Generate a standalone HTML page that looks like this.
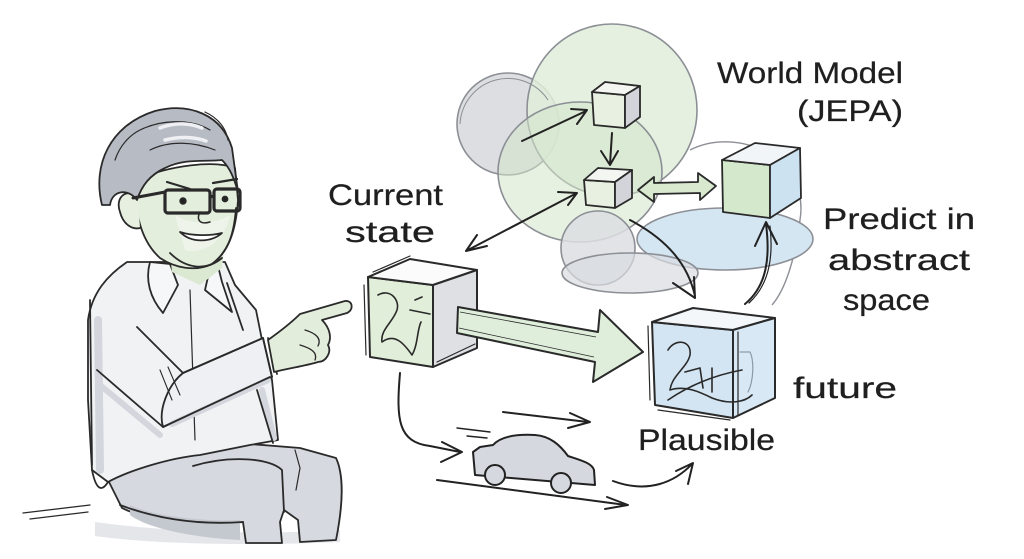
<!DOCTYPE html>
<html><head><meta charset="utf-8"><style>
html,body{margin:0;padding:0;background:#fff;width:1024px;height:559px;overflow:hidden}
svg{display:block}
text{font-family:"Liberation Sans","DejaVu Sans",sans-serif;fill:#1f1f1f;font-size:30px;stroke:#1f1f1f;stroke-width:0.25}
</style></head><body>
<svg width="1024" height="559" viewBox="0 0 1024 559" xmlns="http://www.w3.org/2000/svg">
<rect width="1024" height="559" fill="#fff"/>

<!-- ============ PERSON ============ -->
<g stroke="#2a2a2a" stroke-width="1.8" fill="none" stroke-linecap="round" stroke-linejoin="round">
  <path d="M95,522 C150,530 250,536 340,530 L340,542 C250,546 150,544 95,536 Z" fill="#e4e6ea" stroke="none"/>
  <path d="M23,513 L90,505 M30,519 L88,512" stroke-width="1.3"/>
  <path d="M108,480 C125,460 170,450 250,444 L300,448 L336,458 C344,475 343,505 336,540 L300,542 L298,520 L284,510 L280,522 L282,543 L246,543 L243,522 C200,528 150,522 122,508 Z" fill="#d6d9df"/>
  <path d="M130,505 C150,515 200,522 240,520 L240,540 C200,538 150,530 130,515 Z" fill="#c4c8cf" stroke="none"/>
  <path d="M120,505 C160,520 200,525 243,522" />
  <path d="M193,466 C230,455 270,458 282,470 L284,512" />
  <path d="M295,450 L300,468 L296,490" stroke-width="1.2"/>
  <path d="M127,262 C108,275 92,292 88,320 L88,400 L92,470 L108,482 C130,470 170,458 200,455 L250,445 L278,440 L272,380 L262,340 L256,310 L235,285 L225,262 Z" fill="#f0f2f4"/>
  <path d="M98,320 L100,470" stroke="#d3d6dc" stroke-width="8"/>
  <path d="M262,390 L274,438" stroke="#d3d6dc" stroke-width="6"/>
  <path d="M90,300 L92,465 M227,283 L243,330 M257,390 L273,443" />
  <path d="M92,470 C95,485 100,495 108,482" />
  <path d="M97,370 L163,427 M137,327 L183,373" />
  <path d="M100,385 L160,435" stroke="#d3d6dc" stroke-width="6"/>
  <path d="M150,262 C145,280 150,298 163,313 L178,285 L170,264 Z" fill="#f6f7f9"/>
  <path d="M217,262 L222,282 L232,312 L205,290 L210,268 Z" fill="#f6f7f9"/>
  <path d="M190,290 L195,440" stroke-width="1.2"/>
  <path d="M183,373 L263,338 L272,377 L163,427 C158,410 168,385 183,373 Z" fill="#eef0f3"/>
  <path d="M172,424 L268,380" stroke="#d3d6dc" stroke-width="6"/>
  <path d="M183,373 L263,338 M163,427 L270,377" />
  <path d="M263,338 L272,377 M268,338 L277,374" />
  <path d="M160,370 L172,400 M168,367 L180,395" stroke-width="1.1"/>
  <path d="M268,340 C282,330 292,322 300,314 L345,301 C353,300 354,310 347,313 L322,320 C330,328 332,338 328,345 C332,352 326,362 318,362 C305,366 290,368 274,372 Z" fill="#e3eddc"/>
  <path d="M305,330 C315,333 322,338 318,346 M300,345 C310,348 318,352 315,360" stroke-width="1.3"/>
  <path d="M170,255 L172,272 L200,285 L222,268 L224,250 Z" fill="#dbe9d2" stroke="none"/>
  <path d="M136,180 C134,210 140,240 160,258 C175,268 195,272 212,264 C228,252 236,232 238,200 L235,168 C215,160 170,165 136,180 Z" fill="#e4eedd"/>
  <path d="M175,215 C190,225 215,225 230,215 C225,240 205,255 185,250 Z" fill="#eef4ea" stroke="none"/>
  <path d="M138,196 C125,188 115,198 120,212 C123,224 132,230 140,228" fill="#e6efe0"/>
  <path d="M102,205 C92,165 110,125 155,111 C190,102 222,115 232,148 L238,192 C234,178 230,168 222,160 C205,162 185,158 165,168 C150,175 142,185 137,200 C128,188 112,190 110,205 Z" fill="#b7bbc4"/>
  <path d="M140,130 C160,120 190,118 210,130 M150,150 C170,140 195,142 215,150 M205,112 C218,118 226,128 228,140 M115,160 C120,145 130,135 140,130" stroke-width="1.2"/>
  <path d="M160,128 C175,122 190,123 202,128 M165,140 C180,136 195,137 206,141" stroke="#eef0f3" stroke-width="3.5"/>
  <path d="M133,198 L165,192" stroke-width="3"/>
  <rect x="165" y="190" width="45" height="23" rx="3" stroke-width="3.2"/>
  <path d="M210,197 L214,196" stroke-width="3"/>
  <rect x="214" y="189" width="26" height="22" rx="3" stroke-width="3.2"/>
  <circle cx="183" cy="201" r="2.8" fill="#222"/>
  <circle cx="225" cy="199" r="2.5" fill="#222"/>
  <path d="M167,182 L190,189 M213,183 L237,179" stroke-width="2.2"/>
  <path d="M200,212 C196,220 200,225 210,222" stroke-width="1.5"/>
  <path d="M180,232 C192,244 212,242 222,233 C210,236 192,236 180,232 Z" fill="#fff" stroke-width="1.8"/>
  <path d="M170,253 C185,268 205,272 222,258 M236,208 C234,235 228,252 212,264" />
</g>

<!-- ============ CIRCLES / WORLD MODEL ============ -->
<g stroke="#8c8f95" stroke-width="1.6">
  <circle cx="508" cy="124" r="51" fill="#dcdee2"/>
  <ellipse cx="612" cy="110" rx="85" ry="86" fill="#e1eddb" fill-opacity="0.85"/>
  <ellipse cx="580" cy="172" rx="82" ry="70" fill="#d3e5cb" fill-opacity="0.55"/>
  <path d="M690,150 C740,125 810,160 800,220 C795,260 785,290 772,305" fill="none" stroke-width="1.4"/>
  <ellipse cx="725" cy="239" rx="88" ry="31" fill="#d5e6f3"/>
  <circle cx="598" cy="248" r="37" fill="#dcdee2" fill-opacity="0.85"/>
  <ellipse cx="630" cy="273" rx="68" ry="20" fill="#d9dbe0" fill-opacity="0.7"/>
  <path d="M460,124 A48,48 0 0 1 548,100" fill="none" stroke-width="1"/>
</g>

<g stroke="#2a2a2a" stroke-width="1.8" stroke-linejoin="round" stroke-linecap="round">
  <polygon points="592,92 625,95 625,128 594,125" fill="#e8f0e2"/>
  <polygon points="592,92 605,82 640,86 625,95" fill="#f4f6f2"/>
  <polygon points="625,95 640,86 640,117 625,128" fill="#d2d4d9"/>
  <polygon points="584,180 615,182 615,208 586,205" fill="#e8f0e2"/>
  <polygon points="584,180 598,168 632,170 615,182" fill="#f4f6f2"/>
  <polygon points="615,182 632,170 632,198 615,208" fill="#d2d4d9"/>
  <polygon points="722,160 770,165 770,218 723,212" fill="#d4e8cc"/>
  <polygon points="722,160 755,143 800,148 770,165" fill="#f1f5f8"/>
  <polygon points="770,165 800,148 801,198 770,218" fill="#cde2f1"/>
</g>

<g stroke="#222" stroke-width="2" fill="none" stroke-linecap="round" stroke-linejoin="round">
  <path d="M522,141 L586,111 M571,109 L587,110 L577,124"/>
  <path d="M612,133 L610,164 M601,151 L610,165 L618,151"/>
  <path d="M468,250 L575,194 M487,246 L466,251 L477,235 M558,192 L577,193 L568,205"/>
  <path d="M630,220 C668,240 688,265 695,296 M673,283 L695,298 L694,277"/>
  <path d="M745,304 C768,285 770,255 766,224 M755,246 L766,222 L777,244"/>
  <path d="M749,303 C771,283 773,253 770,226" stroke-width="1.2"/>
</g>
<path d="M638,190 L654,177 L654,183 L698,182 L698,173 L716,186 L700,200 L700,193 L654,194 L654,202 Z" fill="#d8e9d0" stroke="#2a2a2a" stroke-width="1.8" stroke-linejoin="round"/>

<!-- ============ CURRENT STATE CUBE ============ -->
<g stroke="#2a2a2a" stroke-width="2" stroke-linejoin="round" stroke-linecap="round">
  <polygon points="368,277 433,285 433,367 370,357" fill="#e1eed9"/>
  <polygon points="368,277 410,259 477,270 433,285" fill="#fafbfa"/>
  <polygon points="433,285 477,270 477,348 433,367" fill="#dfe0e4"/>
  <path d="M373,272 L410,256 M437,362 L475,344 M364,285 L366,355" fill="none" stroke-width="1.2"/>
  <path d="M378,295 C390,288 400,300 397,310 C393,322 380,330 382,342 C395,332 405,345 412,355 C418,345 417,330 421,322 M410,310 L430,314 M415,300 L422,297" fill="none" stroke-width="1.6"/>
</g>
<path d="M458,307 L598,332 L600,310 L643,352 L593,382 L595,362 L457,333 Z" fill="#dfeedb" stroke="#2a2a2a" stroke-width="2" stroke-linejoin="round"/>
<path d="M460,312 L596,337 M459,328 L594,357" stroke="#2a2a2a" stroke-width="0.8" fill="none"/>

<!-- ============ PLAUSIBLE CUBE ============ -->
<g stroke="#2a2a2a" stroke-width="2" stroke-linejoin="round" stroke-linecap="round">
  <polygon points="652,322 733,330 733,418 655,405" fill="#d3e5f2"/>
  <polygon points="652,322 693,308 775,318 733,330" fill="#f3f7fa"/>
  <polygon points="733,330 775,318 775,398 733,418" fill="#d8e8f4"/>
  <path d="M738,332 L738,415 M648,326 L650,400 M658,410 L730,420" fill="none" stroke-width="1.2"/>
  <path d="M668,350 C675,338 692,340 690,355 C687,368 672,375 670,390 C685,385 700,392 712,398 C730,405 745,402 752,395 M685,372 L700,368 L703,388 M668,400 C690,385 715,375 742,370 M712,368 L712,392" fill="none" stroke-width="1.6"/>
  <path d="M740,352 L750,352 C754,360 754,380 748,392" fill="none" stroke="#8c9aa6" stroke-width="1.2"/>
</g>

<!-- ============ CAR & LOWER ARROWS ============ -->
<g stroke="#222" stroke-width="2" fill="none" stroke-linecap="round" stroke-linejoin="round">
  <path d="M473,452 L480,447 L493,445 C500,437 515,434 535,435 C550,436 560,445 568,456 C580,460 592,463 594,470 L595,485 L475,475 Z" fill="#d5d8de"/>
  <circle cx="495" cy="475" r="10" fill="#d5d8de"/>
  <circle cx="561" cy="483" r="10" fill="#d5d8de"/>
  <path d="M457,428 L490,432 M467,436 L487,438" stroke-width="1.4"/>
  <path d="M503,412 L588,422 M570,413 L590,422 L568,428"/>
  <path d="M437,480 L626,505 M607,497 L628,505 L605,509"/>
  <path d="M400,373 C396,420 398,442 430,446 L460,452 M442,442 L462,452 L441,462"/>
  <path d="M613,481 C648,494 675,482 692,464 M676,471 L693,463 L688,484"/>
</g>

<!-- ============ TEXT ============ -->
<text x="717" y="83" textLength="186" lengthAdjust="spacingAndGlyphs">World Model</text>
<text x="797" y="121" textLength="106" lengthAdjust="spacingAndGlyphs">(JEPA)</text>
<text x="328" y="205" textLength="115" lengthAdjust="spacingAndGlyphs">Current</text>
<text x="345" y="242" textLength="90" lengthAdjust="spacingAndGlyphs">state</text>
<text x="823" y="229" textLength="152" lengthAdjust="spacingAndGlyphs">Predict in</text>
<text x="828" y="270" textLength="142" lengthAdjust="spacingAndGlyphs">abstract</text>
<text x="843" y="310" textLength="87" lengthAdjust="spacingAndGlyphs">space</text>
<text x="793" y="398" textLength="104" lengthAdjust="spacingAndGlyphs">future</text>
<text x="638" y="450" textLength="137" lengthAdjust="spacingAndGlyphs">Plausible</text>
</svg>
</body></html>
